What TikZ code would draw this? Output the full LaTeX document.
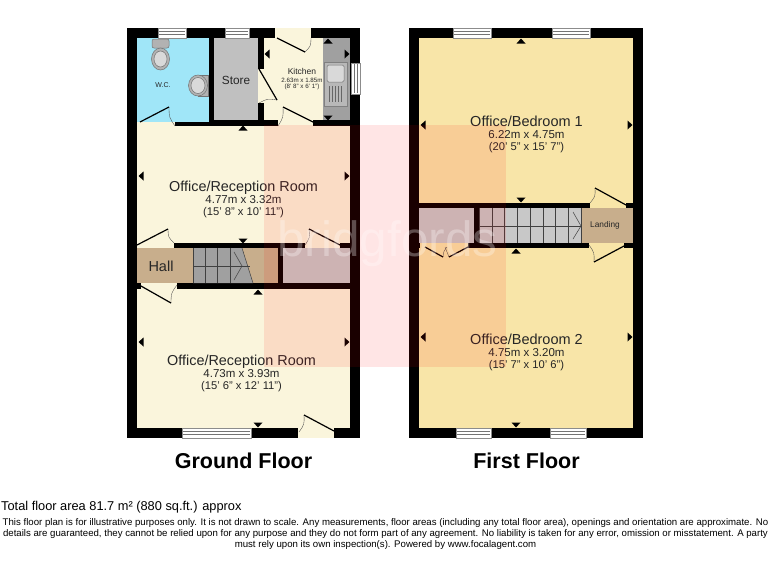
\documentclass[tikz,border=0pt]{standalone}
\usepackage{fontspec}
\setmainfont{Liberation Sans}
\usetikzlibrary{calc}
\tikzset{
  wallfill/.style={fill=black},
  leaf/.style={draw=black,line width=1.2pt},
  swing/.style={draw=black!70,line width=0.35pt},
  label/.style={inner sep=0pt,align=center,text=black!85},
  stairline/.style={draw=black!75,line width=0.5pt},
  glazing/.style={draw=black!45,fill=white,line width=0.5pt},
  pane/.style={draw=black!55,line width=0.5pt},
  fixture/.style={draw=black!55,fill=black!30,line width=0.5pt},
  fixturein/.style={draw=black!55,fill=black!15,line width=0.5pt}
}
\definecolor{cream}{HTML}{FAF5DC}
\definecolor{wccol}{HTML}{A0E6F8}
\definecolor{storecol}{HTML}{C0C0C0}
\definecolor{bedcol}{HTML}{F8E5A8}
\definecolor{hallcol}{HTML}{C8AE8C}
\definecolor{graycol}{HTML}{C8C8C8}
\definecolor{stairdark}{HTML}{A0A0A0}
\definecolor{wmk}{HTML}{FF0000}
\newcommand{\winh}[4]{\draw[glazing] (#1,#2) rectangle (#3,#4);
  \draw[pane] (#1+1,{#2+3.5}) -- (#3-1,{#2+3.5}); \draw[pane] (#1+1,{#2+6.5}) -- (#3-1,{#2+6.5});}
\newcommand{\winv}[4]{\draw[glazing] (#1,#2) rectangle (#3,#4);
  \draw[pane] ({#1+3.5},#2+1) -- ({#1+3.5},#4-1); \draw[pane] ({#1+6},#2+1) -- ({#1+6},#4-1);}
\newcommand{\doorway}[9]{\fill[#1] (#2,#3) rectangle (#4,#5);
  \draw[swing] (#8) .. controls ($(#8)!0.5!(#9)!#6!90:(#9)$) .. (#9);
  \draw[leaf] (#7) -- (#8);}
\newcommand{\tup}[2]{\fill (#1-4.5,#2+2.5) -- (#1+4.5,#2+2.5) -- (#1,#2-2.5) -- cycle;}
\newcommand{\tdown}[2]{\fill (#1-4.5,#2-2.5) -- (#1+4.5,#2-2.5) -- (#1,#2+2.5) -- cycle;}
\newcommand{\tleft}[2]{\fill (#1+2.5,#2-4.5) -- (#1+2.5,#2+4.5) -- (#1-2.5,#2) -- cycle;}
\newcommand{\tright}[2]{\fill (#1-2.5,#2-4.5) -- (#1-2.5,#2+4.5) -- (#1+2.5,#2) -- cycle;}
\newcommand{\roomtext}[4]{{\fontsize{#1}{14.2}\selectfont #2}\\{\fontsize{11.5}{14.2}\selectfont #3}\\{\fontsize{11.2}{14.2}\selectfont #4}}
\begin{document}
\begin{tikzpicture}[x=1pt,y=-1pt]
\useasboundingbox (0,0) rectangle (768,576);
\fill[white] (0,0) rectangle (768,576);
% ---------- Ground floor
\fill[wallfill] (127,28) rectangle (360,438);
\fill[cream] (137,126) rectangle (350,243);
\fill[cream] (137,289) rectangle (350,428);
\fill[wccol] (137,38) rectangle (209,122);
\fill[storecol] (214,38) rectangle (258,120);
\fill[cream] (264,38) rectangle (323,120);
\fill[stairdark] (323,38) rectangle (350,120);
\fill[hallcol] (137,248) rectangle (278,283);
\fill[stairdark] (193,248) -- (242,248) -- (253,283) -- (193,283) -- cycle;
\fill[graycol] (283,248) rectangle (350,283);
\foreach \sx in {193,205,217,230}{\draw[stairline] (\sx,248) -- (\sx,283);}
\draw[stairline] (242,248) -- (253,283);
\draw[stairline] (193,266) -- (250,266);
\draw[stairline] (234,252) -- (242,266) -- (234,280);
% kitchen fittings
\draw[black!50,fill=black!28,line width=0.5pt] (324,62) rectangle (347,106);
\draw[fixturein,rounded corners=1.5pt] (327,65) rectangle (344,82);
\foreach \sx in {329,332,335,338,341}{\draw[black!60,line width=0.4pt] (\sx,86) -- (\sx,102);}
% toilet and basin
\draw[fixture,rounded corners=2pt] (152,39) rectangle (169,48);
\draw[fixture] (160.5,59) ellipse [x radius=9,y radius=11];
\draw[fixturein] (160.5,59) ellipse [x radius=6.5,y radius=8];
\draw[fixture] (198,75) rectangle (208,96);
\draw[fixture] (198,85.5) ellipse [x radius=9.5,y radius=10.5];
\draw[fixturein] (198,85.5) ellipse [x radius=7,y radius=8];
% windows
\winh{158}{28}{186}{38}
\winh{225}{28}{249}{38}
\winv{351}{63}{360}{94}
\winh{182}{428}{251}{438}
% doors
\coordinate (kta) at (277,38); \coordinate (ktb) at (305,52); \coordinate (ktc) at (311,38);
\doorway{cream}{275}{28}{311}{38}{-3pt}{kta}{ktb}{ktc}
\coordinate (kla) at (259,69); \coordinate (klb) at (277,100); \coordinate (klc) at (259,103);
\doorway{cream}{258}{69}{264}{103}{-3pt}{kla}{klb}{klc}
\coordinate (kba) at (313,122); \coordinate (kbb) at (283,107); \coordinate (kbc) at (278,126);
\doorway{cream}{278}{120}{313}{126}{3pt}{kba}{kbb}{kbc}
\coordinate (wca) at (140,122); \coordinate (wcb) at (169,107); \coordinate (wcc) at (175,126);
\fill[wccol] (137,120) rectangle (175,122);
\doorway{cream}{137}{122}{175}{126}{-3pt}{wca}{wcb}{wcc}
\coordinate (hta) at (137,245); \coordinate (htb) at (168,229); \coordinate (htc) at (174,243);
\doorway{cream}{137}{243}{174}{248}{-3pt}{hta}{htb}{htc}
\coordinate (hra) at (340,245); \coordinate (hrb) at (309,229); \coordinate (hrc) at (305,245);
\doorway{cream}{305}{243}{340}{248}{3pt}{hra}{hrb}{hrc}
\coordinate (hba) at (141,286); \coordinate (hbb) at (171,303); \coordinate (hbc) at (177,285);
\doorway{cream}{141}{283}{177}{289}{3pt}{hba}{hbb}{hbc}
\coordinate (fda) at (334,431); \coordinate (fdb) at (304,415); \coordinate (fdc) at (299,432);
\doorway{cream}{298}{428}{334}{438}{3pt}{fda}{fdb}{fdc}
% ---------- First floor
\fill[wallfill] (409,28) rectangle (643,438);
\fill[bedcol] (419,38) rectangle (633,203);
\fill[bedcol] (419,248) rectangle (633,428);
\fill[graycol] (419,208) rectangle (474,243);
\fill[graycol] (479,208) rectangle (581,243);
\fill[hallcol] (581,208) rectangle (633,243);
\foreach \sx in {479,492,504,517,530,543,555,568,581}{\draw[stairline] (\sx,208) -- (\sx,243);}
\draw[stairline] (479,226) -- (581,226);
\draw[stairline] (573,212) -- (581,226) -- (573,239);
\winh{453}{28}{491}{38}
\winh{552}{28}{590}{38}
\winh{456}{428}{491}{438}
\winh{550}{428}{586}{438}
\coordinate (lta) at (626,205); \coordinate (ltb) at (595,188); \coordinate (ltc) at (590,203);
\doorway{bedcol}{590}{203}{626}{208}{3pt}{lta}{ltb}{ltc}
\coordinate (lba) at (624,246); \coordinate (lbb) at (594,262); \coordinate (lbc) at (589,245);
\doorway{bedcol}{589}{243}{624}{248}{-3pt}{lba}{lbb}{lbc}
\coordinate (cda) at (425,247); \coordinate (cdb) at (443,257); \coordinate (cdc) at (447,247);
\doorway{bedcol}{420}{243}{468}{248}{1.5pt}{cda}{cdb}{cdc}
\coordinate (cea) at (468,247); \coordinate (ceb) at (449,257); \coordinate (cec) at (445,247);
\draw[swing] (ceb) -- (cec);
\draw[leaf] (cea) -- (ceb);
% ---------- direction marks
\tleft{267}{54} \tright{347}{54} \tup{328}{41} \tdown{328}{118} \tup{243}{128}
\tleft{141}{176} \tright{347}{176} \tdown{243}{241} \tup{258}{292}
\tleft{141}{342} \tright{347}{342} \tdown{258}{425}
\tup{521}{41} \tleft{423}{125} \tright{630}{125} \tdown{521}{200}
\tup{516}{251} \tleft{423}{337} \tright{630}{337} \tdown{516}{425}
% ---------- labels
\node[label,font=\fontsize{7}{8}\selectfont] (wclabel) at (163,85) {W.C.};
\node[label,font=\fontsize{11.8}{13}\selectfont] (storelabel) at (236,80) {Store};
\node[label,font=\fontsize{8.5}{9}\selectfont] (kitchenlabel) at (302,71) {Kitchen};
\node[label,font=\fontsize{6.2}{6.6}\selectfont] (kitchendim) at (302,84) {2.63m x 1.85m\\(8' 8" x 6' 1")};
\node[label] (room1label) at (243.5,199) {\roomtext{14.4}{Office/Reception Room}{4.77m x 3.32m}{(15' 8" x 10' 11")}};
\node[label] (room2label) at (241.5,373) {\roomtext{14.4}{Office/Reception Room}{4.73m x 3.93m}{(15' 6" x 12' 11")}};
\node[label,font=\fontsize{14.5}{15}\selectfont] (halllabel) at (161,266) {Hall};
\node[label] (bed1label) at (526.5,134) {\roomtext{14.5}{Office/Bedroom 1}{6.22m x 4.75m}{(20' 5" x 15' 7")}};
\node[label] (bed2label) at (526.5,352) {\roomtext{14.5}{Office/Bedroom 2}{4.75m x 3.20m}{(15' 7" x 10' 6")}};
\node[label,font=\fontsize{8.3}{9}\selectfont] (landinglabel) at (605,225.5) {Landing};
\node[label,text=black,font=\bfseries\fontsize{21.5}{23}\selectfont] (groundlabel) at (243.5,460.5) {Ground Floor};
\node[label,text=black,font=\bfseries\fontsize{21.5}{23}\selectfont] (firstlabel) at (526.5,460.5) {First Floor};
% ---------- watermark
\fill[wmk,fill opacity=0.10] (264,125) rectangle (506,367);
\node[inner sep=0pt,text=white,text opacity=0.3,font=\fontsize{49.5}{52}\selectfont] (wmtext) at (387.5,244) {bridgfords};
% ---------- footer
\node[label,anchor=west,text=black,font=\fontsize{12.8}{14}\selectfont] (area) at (1,507.5) {Total floor area 81.7 m² (880 sq.ft.) approx};
\node[label,text=black,font=\fontsize{9.64}{11.2}\selectfont] (disclaimer) at (385.5,534) {This floor plan is for illustrative purposes only. It is not drawn to scale. Any measurements, floor areas (including any total floor area), openings and orientation are approximate. No\\details are guaranteed, they cannot be relied upon for any purpose and they do not form part of any agreement. No liability is taken for any error, omission or misstatement. A party\\must rely upon its own inspection(s). Powered by www.focalagent.com};
\end{tikzpicture}
\end{document}
